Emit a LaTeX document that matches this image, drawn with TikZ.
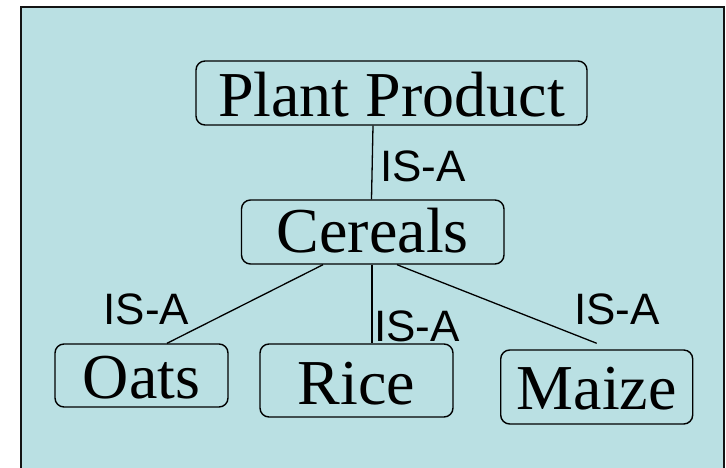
\documentclass[tikz,border=0pt]{standalone}
\usepackage{fontspec}
\setmainfont{Liberation Serif}
\newfontfamily\relfont{Liberation Sans}
\definecolor{panel}{RGB}{186,224,227}
\definecolor{edge}{RGB}{20,20,20}
\begin{document}
\begin{tikzpicture}[x=1pt,y=-1pt,
  concept/.style={draw=black,line width=1.4pt,rounded corners=9pt,inner sep=0pt,
    text depth=0pt,font=\fontsize{64}{70}\selectfont},
  isa/.style={draw=black,line width=1.3pt},
  rel/.style={inner sep=0pt,font=\relfont\fontsize{44}{48}\selectfont}]
  \useasboundingbox (0,0) rectangle (726,468);
  % panel
  \draw[fill=panel,draw=edge,line width=2pt] (20.5,7.5) rectangle (724,480);
  % concepts
  \node[concept,minimum width=391pt,minimum height=64pt,text height=47.4pt] (plant) at (391.5,93) {Plant Product};
  \node[concept,minimum width=262.5pt,minimum height=64pt,text height=41.4pt] (cereals) at (372.75,232) {Cereals};
  \node[concept,minimum width=173pt,minimum height=63pt,text height=45.6pt] (oats) at (141.5,375.5) {Oats};
  \node[concept,minimum width=193pt,minimum height=73pt,text height=47pt] (rice) at (356.5,380.5) {Rice};
  \node[concept,minimum width=192pt,minimum height=74pt,text height=44.6pt] (maize) at (596.7,387) {Maize};
  % IS-A links
  \draw[isa] ([xshift=-18.5pt]plant.south) -- ([xshift=-1.25pt]cereals.north);
  \draw[isa] ([xshift=-49.75pt]cereals.south) -- ([xshift=25.5pt]oats.north);
  \draw[isa] ([xshift=-0.75pt]cereals.south) -- ([xshift=15.5pt]rice.north);
  \draw[isa] ([xshift=24.25pt]cereals.south) -- ([yshift=6pt]maize.north);
  % link labels
  \node[rel] (l1) at (423,166) {IS-A};
  \node[rel] (l2) at (146.5,309) {IS-A};
  \node[rel] (l3) at (417,326) {IS-A};
  \node[rel] (l4) at (617,309) {IS-A};
\end{tikzpicture}
\end{document}
